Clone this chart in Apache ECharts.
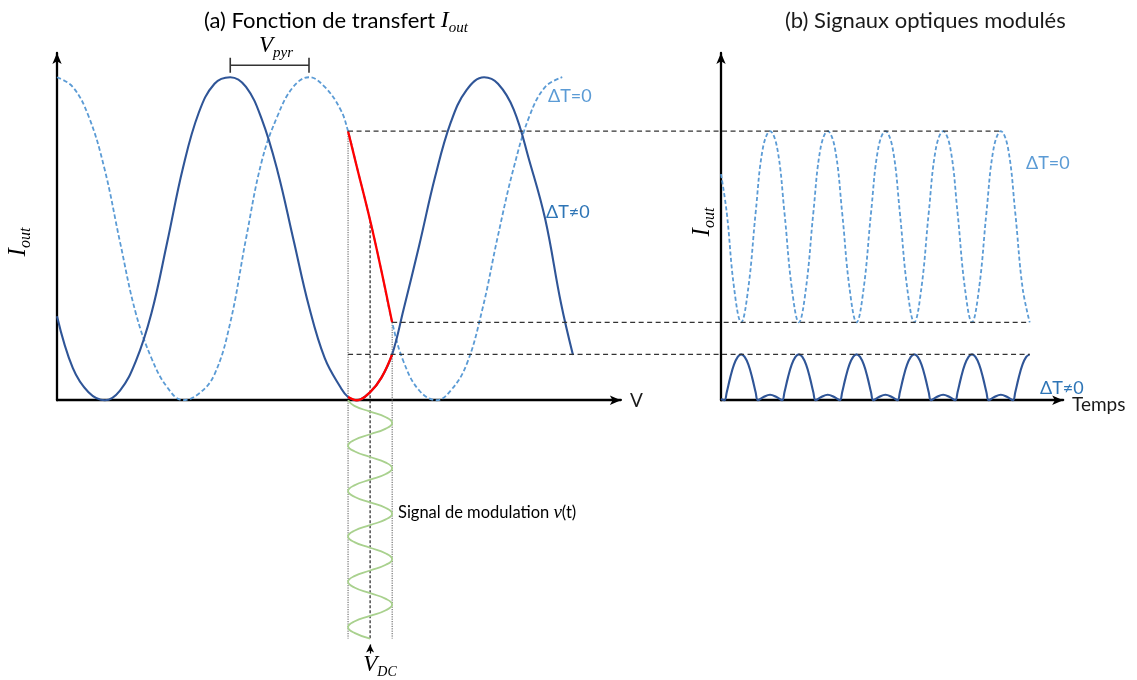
<!DOCTYPE html>
<html>
<head>
<meta charset="utf-8">
<script src="https://cdn.jsdelivr.net/npm/echarts@6/dist/echarts.min.js"></script>
<style>html,body{margin:0;padding:0;background:#fff}#c{width:1137px;height:680px}</style>
</head>
<body>
<div id="c"></div>
<script>
// ---------- data ----------
// modulation range on the V axis
const vMin = 4.62, vDC = 4.97, vMax = 5.32;
// intensity levels transferred to panel (b)
const levelTop = 0.833, levelMid = 0.241, levelLow = 0.142;
// transfer function, ΔT=0 : [V, Iout]
const lightTransfer = [
  [0,1.00],[0.25,0.97],[0.5,0.88],[0.75,0.72],[1.0,0.49],[1.25,0.27],[1.5,0.13],[1.75,0.04],
  [2.0,0.00],[2.25,0.02],[2.5,0.08],[2.75,0.24],[3.0,0.50],[3.25,0.74],[3.5,0.88],[3.75,0.97],
  [4.0,1.00],[4.25,0.97],[4.5,0.90],[4.62,0.833],[4.75,0.73],[4.97,0.557],[5.15,0.40],[5.32,0.241],
  [5.5,0.12],[5.75,0.03],[6.03,0.00],[6.25,0.03],[6.5,0.11],[6.75,0.28],[7.0,0.51],[7.25,0.72],
  [7.5,0.88],[7.75,0.97],[8.02,1.00]
];
// transfer function, ΔT≠0 : [V, Iout]
const darkTransfer = [
  [0,0.26],[0.25,0.10],[0.5,0.025],[0.76,0.00],[1.0,0.03],[1.25,0.12],[1.5,0.27],[1.75,0.49],
  [2.0,0.72],[2.25,0.89],[2.5,0.98],[2.75,1.00],[3.0,0.97],[3.25,0.87],[3.5,0.71],[3.75,0.50],
  [4.0,0.29],[4.25,0.13],[4.5,0.04],[4.62,0.01],[4.76,0.00],[4.97,0.025],[5.15,0.07],[5.32,0.142],
  [5.5,0.28],[5.75,0.48],[6.0,0.69],[6.25,0.86],[6.5,0.96],[6.78,1.00],[7.0,0.98],[7.25,0.90],
  [7.5,0.74],[7.75,0.56],[8.0,0.30],[8.19,0.14]
];
// modulated optical signal, ΔT=0 : [t, Iout]
const lightSignal = [
  [0,0.70],[0.1,0.58],[0.225,0.35],[0.35,0.241],
  [0.475,0.35],[0.6,0.58],[0.725,0.78],[0.85,0.833],[0.975,0.78],[1.1,0.58],[1.225,0.35],[1.35,0.241],
  [1.475,0.35],[1.6,0.58],[1.725,0.78],[1.85,0.833],[1.975,0.78],[2.1,0.58],[2.225,0.35],[2.35,0.241],
  [2.475,0.35],[2.6,0.58],[2.725,0.78],[2.85,0.833],[2.975,0.78],[3.1,0.58],[3.225,0.35],[3.35,0.241],
  [3.475,0.35],[3.6,0.58],[3.725,0.78],[3.85,0.833],[3.975,0.78],[4.1,0.58],[4.225,0.35],[4.35,0.241],
  [4.475,0.35],[4.6,0.58],[4.725,0.78],[4.85,0.833],[4.975,0.78],[5.1,0.58],[5.225,0.35],[5.35,0.241]
];
// modulated optical signal, ΔT≠0 : [t, Iout]
const darkSignal = [
  [0,0.004],[0.06,0],[0.1,0.025],[0.16,0.07],[0.225,0.11],[0.29,0.134],[0.35,0.142],
  [0.41,0.134],[0.475,0.11],[0.54,0.07],[0.6,0.025],[0.64,0],[0.73,0.009],[0.85,0.017],[0.97,0.009],
  [1.06,0],[1.1,0.025],[1.16,0.07],[1.225,0.11],[1.29,0.134],[1.35,0.142],
  [1.41,0.134],[1.475,0.11],[1.54,0.07],[1.6,0.025],[1.64,0],[1.73,0.009],[1.85,0.017],[1.97,0.009],
  [2.06,0],[2.1,0.025],[2.16,0.07],[2.225,0.11],[2.29,0.134],[2.35,0.142],
  [2.41,0.134],[2.475,0.11],[2.54,0.07],[2.6,0.025],[2.64,0],[2.73,0.009],[2.85,0.017],[2.97,0.009],
  [3.06,0],[3.1,0.025],[3.16,0.07],[3.225,0.11],[3.29,0.134],[3.35,0.142],
  [3.41,0.134],[3.475,0.11],[3.54,0.07],[3.6,0.025],[3.64,0],[3.73,0.009],[3.85,0.017],[3.97,0.009],
  [4.06,0],[4.1,0.025],[4.16,0.07],[4.225,0.11],[4.29,0.134],[4.35,0.142],
  [4.41,0.134],[4.475,0.11],[4.54,0.07],[4.6,0.025],[4.64,0],[4.73,0.009],[4.85,0.017],[4.97,0.009],
  [5.06,0],[5.1,0.025],[5.16,0.07],[5.225,0.11],[5.29,0.134],[5.35,0.142]
];
// modulation signal v(t) : [V, t]
const modulation = [
  [4.62,0],[4.72,0.125],[4.97,0.25],[5.22,0.375],[5.32,0.5],[5.22,0.625],[4.97,0.75],[4.72,0.875],
  [4.62,1],[4.72,1.125],[4.97,1.25],[5.22,1.375],[5.32,1.5],[5.22,1.625],[4.97,1.75],[4.72,1.875],
  [4.62,2],[4.72,2.125],[4.97,2.25],[5.22,2.375],[5.32,2.5],[5.22,2.625],[4.97,2.75],[4.72,2.875],
  [4.62,3],[4.72,3.125],[4.97,3.25],[5.22,3.375],[5.32,3.5],[5.22,3.625],[4.97,3.75],[4.72,3.875],
  [4.62,4],[4.72,4.125],[4.97,4.25],[5.22,4.375],[5.32,4.5],[5.22,4.625],[4.97,4.75],[4.72,4.875],
  [4.62,5],[4.72,5.125],[4.97,5.25]
];
const modEnd = 5.25;
// V_pyr bracket between the two neighbouring maxima
const pyrPeaks = [2.75, 4.0];
const pyrLevel = 1.037, pyrTick = 0.023;
// end (in t) of the dashed connectors in panel (b)
const connectorEnds = [4.85, 5.35, 5.35];

// ---------- scales / layout ----------
const vAxisMax = 8.95, iAxisMax = 1.075, tAxisMax = 5.93, modAxisMax = 5.8;
const pxV = 63, pxI = 323, pxT = 57.7, pxMod = 45.4;

const sans = 'Lato';
const serif = 'Liberation Serif';
const cDark = '#2F5597', cLight = '#5B9BD5', cLabelDark = '#2E75B6', cRed = '#FF0000', cGreen = '#A9D18E';
const SMOOTH = 0.4;

const axisLine = {show: true, onZero: false, symbol: ['none', 'arrow'], symbolSize: [7, 11],
  lineStyle: {color: '#000', width: 2.3}};
const noDeco = {axisTick: {show: false}, axisLabel: {show: false}, splitLine: {show: false}, axisPointer: {show: false}};

const inRange = (arr) => arr.filter(p => p[0] >= vMin - 1e-9 && p[0] <= vMax + 1e-9);

function seg(name, xi, yi, data, style, extra) {
  return Object.assign({
    name, type: 'line', xAxisIndex: xi, yAxisIndex: yi, data, symbol: 'none', silent: true,
    lineStyle: style, clip: false
  }, extra || {});
}

const dotted = {color: '#555', width: 1, type: [1.2, 1.2]};
const dcDash = {color: '#222', width: 1.2, type: [3, 2]};

const option = {
  animation: false,
  backgroundColor: '#fff',
  grid: [
    {left: 57, top: 53, width: vAxisMax * pxV, height: iAxisMax * pxI, containLabel: false, outerBoundsMode: 'none'},
    {left: 721, top: 53, width: tAxisMax * pxT, height: iAxisMax * pxI, containLabel: false, outerBoundsMode: 'none'},
    {left: 57, top: 53 + iAxisMax * pxI, width: vAxisMax * pxV, height: modAxisMax * pxMod, containLabel: false, outerBoundsMode: 'none'}
  ],
  xAxis: [
    Object.assign({gridIndex: 0, type: 'value', min: 0, max: vAxisMax, axisLine}, noDeco),
    Object.assign({gridIndex: 1, type: 'value', min: 0, max: tAxisMax, axisLine}, noDeco),
    {gridIndex: 2, type: 'value', min: 0, max: vAxisMax, show: false}
  ],
  yAxis: [
    Object.assign({gridIndex: 0, type: 'value', min: 0, max: iAxisMax, axisLine}, noDeco),
    Object.assign({gridIndex: 1, type: 'value', min: 0, max: iAxisMax, axisLine}, noDeco),
    {gridIndex: 2, type: 'value', min: 0, max: modAxisMax, inverse: true, show: false}
  ],
  series: [
    // guides in panel (a)
    seg('guideMin', 0, 0, [[vMin, levelTop], [vMin, 0]], dotted),
    seg('guideMax', 0, 0, [[vMax, levelMid], [vMax, 0]], dotted),
    seg('guideDC', 0, 0, [[vDC, lightTransfer.find(p => p[0] === vDC)[1]], [vDC, 0]], dcDash),
    // transfer curves
    seg('ΔT=0', 0, 0, lightTransfer, {color: cLight, width: 1.8, type: [4.5, 2.5]}, {smooth: SMOOTH}),
    seg('ΔT≠0', 0, 0, darkTransfer, {color: cDark, width: 2.1}, {smooth: SMOOTH}),
    seg('redLight', 0, 0, inRange(lightTransfer), {color: cRed, width: 2.3}, {smooth: SMOOTH}),
    seg('redDark', 0, 0, inRange(darkTransfer), {color: cRed, width: 2.3}, {smooth: SMOOTH}),
    // V_pyr bracket
    seg('Vpyr', 0, 0, [
      [pyrPeaks[0], pyrLevel + pyrTick], [pyrPeaks[0], pyrLevel - pyrTick], [pyrPeaks[0], pyrLevel],
      [pyrPeaks[1], pyrLevel], [pyrPeaks[1], pyrLevel + pyrTick], [pyrPeaks[1], pyrLevel - pyrTick]
    ], {color: '#333', width: 1.6}),
    // panel (b)
    seg('sigLight', 1, 1, lightSignal, {color: cLight, width: 1.8, type: [4, 2.5]}, {smooth: SMOOTH}),
    seg('sigDark', 1, 1, darkSignal, {color: cDark, width: 2.1}, {smooth: SMOOTH}),
    // modulation signal
    seg('guideMin2', 2, 2, [[vMin, 0], [vMin, modEnd]], dotted),
    seg('guideMax2', 2, 2, [[vMax, 0], [vMax, modEnd]], dotted),
    seg('guideDC2', 2, 2, [[vDC, 0], [vDC, modEnd]], dcDash),
    seg('modulation', 2, 2, modulation, {color: cGreen, width: 1.8}, {
      smooth: 0.5,
      markLine: {
        silent: true, symbol: ['none', 'arrow'], symbolSize: [6, 8], animation: false,
        label: {show: false}, lineStyle: {color: '#000', type: 'solid', width: 1.2},
        data: [[{coord: [vDC, 5.58]}, {coord: [vDC, 5.38]}]]
      }
    })
  ]
};

const chart = echarts.init(document.getElementById('c'));
chart.setOption(option);

const richMath = (size, sub, color, nSize) => ({
  n: {fontFamily: sans, fontSize: nSize || 22, lineHeight: size + 6, verticalAlign: 'middle', color: color},
  i: {fontFamily: serif, fontStyle: 'italic', fontSize: size, lineHeight: size + 6, verticalAlign: 'middle', color: color},
  s: {fontFamily: serif, fontStyle: 'italic', fontSize: sub, lineHeight: 10, verticalAlign: 'bottom', color: color}
});
function txt(x, y, text, size, color, align, extra) {
  return Object.assign({type: 'text', x, y, silent: true, z: 10,
    style: {text, fontFamily: sans, fontSize: size, fill: color, align: align || 'left', verticalAlign: 'middle'}}, extra || {});
}
function rtxt(x, y, text, rich, align, extra) {
  return Object.assign({type: 'text', x, y, silent: true, z: 10,
    style: {text, rich, align: align || 'left', verticalAlign: 'middle'}}, extra || {});
}

const L = (pt) => chart.convertToPixel({gridIndex: 0}, pt);
const R = (pt) => chart.convertToPixel({gridIndex: 1}, pt);
const connectors = [
  [L([vMin, levelTop]), R([connectorEnds[0], levelTop])],
  [L([vMax, levelMid]), R([connectorEnds[1], levelMid])],
  [L([vMin, levelLow]), R([connectorEnds[2], levelLow])]
].map(([a, b]) => ({
  type: 'line', silent: true, z: 5,
  shape: {x1: a[0], y1: a[1], x2: b[0], y2: b[1]},
  style: {stroke: '#333', lineWidth: 1.3, lineDash: [5, 3.5]}
}));

const dark = '#1a1a1a';
const graphics = connectors.concat([
  rtxt(336, 21, '{n|(a) Fonction de transfert }{i|I}{s|out}', richMath(24, 15, dark, 22), 'center'),
  txt(785, 21, '(b) Signaux optiques modulés', 22, dark, 'left'),
  txt(630, 401, 'V', 19, dark, 'left'),
  txt(1072, 405, 'Temps', 19, dark, 'left'),
  txt(548, 96, 'ΔT=0', 18, cLight, 'left'),
  txt(546, 212, 'ΔT≠0', 18, cLabelDark, 'left'),
  txt(1026, 163, 'ΔT=0', 18, cLight, 'left'),
  txt(1040, 388, 'ΔT≠0', 18, cLabelDark, 'left'),
  rtxt(276, 46, '{i|V}{s|pyr}', richMath(23, 15, dark), 'center'),
  rtxt(18, 242, '{i|I}{s|out}', richMath(25, 16, dark), 'center', {rotation: Math.PI / 2}),
  rtxt(702, 222, '{i|I}{s|out}', richMath(25, 16, dark), 'center', {rotation: Math.PI / 2}),
  rtxt(398, 513, '{n|Signal de modulation }{i|v}{n|(t)}', richMath(19, 12, dark, 16.5), 'left'),
  rtxt(380, 665, '{i|V}{s|DC}', richMath(23, 14, dark), 'center')
]);
chart.setOption({graphic: graphics});
</script>
</body>
</html>
